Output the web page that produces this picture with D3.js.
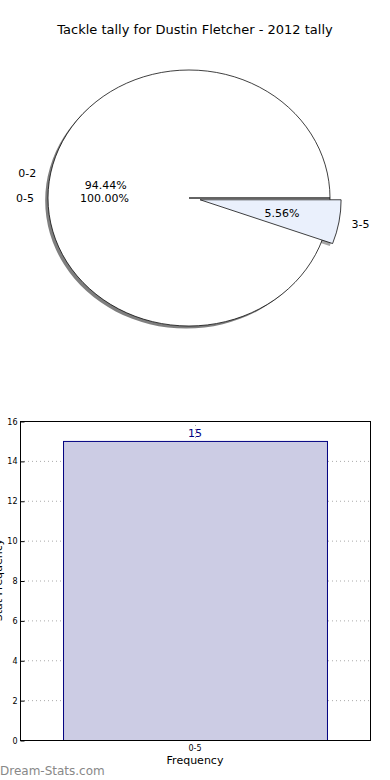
<!DOCTYPE html>
<html>
<head>
<meta charset="utf-8">
<script src="https://cdn.jsdelivr.net/npm/d3@7"></script>
<style>
  body { margin: 0; background: #fff; }
  svg { display: block; font-family: "DejaVu Sans", sans-serif; }
</style>
</head>
<body>
<svg id="chart" width="390" height="780"></svg>
<script>
const TITLE = "Tackle tally for Dustin Fletcher - 2012 tally";

// pie: two slices plus the overall 0-5 ring drawn on top
const pieLabels = ["0-2", "3-5"];
const pieValues = [17, 1];
const pieFills = ["#ffffff", "#eaf0fc"];
const pieExplode = [0, 0.1];
const totalLabel = "0-5";

// bar chart
const barCats = ["0-5"];
const barValues = [15];
const yTicks = [0, 2, 4, 6, 8, 10, 12, 14, 16];

const svg = d3.select("#chart");

svg.append("text")
  .attr("x", 195).attr("y", 34)
  .attr("text-anchor", "middle")
  .attr("font-size", 13)
  .text(TITLE);

// ----- pie -----
const CX = 189, CY = 198, RX = 141, RY = 128;
const g = svg.append("g").attr("transform", `translate(${CX},${CY}) scale(${RX / 100},${RY / 100})`);
const R = 100;

const total = d3.sum(pieValues);
// matplotlib style: start at east, counter clockwise
const toD3 = (deg) => Math.PI / 2 - deg * Math.PI / 180;
let start = 0;
const slices = pieValues.map((v, i) => {
  const span = v / total * 360;
  const s = { label: pieLabels[i], value: v, a0: start, a1: start + span, fill: pieFills[i], explode: pieExplode[i] };
  start += span;
  return s;
});

const arc = d3.arc().innerRadius(0).outerRadius(R);
const wedgePath = (a0, a1) => arc({ startAngle: toD3(a1), endAngle: toD3(a0) });
const offset = (s) => {
  const mid = (s.a0 + s.a1) / 2 * Math.PI / 180;
  return [s.explode * 0.8 * R * Math.cos(mid), -s.explode * 0.8 * R * Math.sin(mid)];
};

// shadows
const shadow = g.append("g").attr("transform", "translate(-2,2)");
shadow.append("path")
  .attr("d", wedgePath(0, 359.999))
  .attr("fill", "#000").attr("opacity", 0.5);
slices.filter((s) => s.explode > 0).forEach((s) => {
  const [dx, dy] = offset(s);
  shadow.append("path")
    .attr("transform", `translate(${dx},${dy})`)
    .attr("d", wedgePath(s.a0, s.a1))
    .attr("fill", "#000").attr("opacity", 0.35);
});

// overall 0-5 ring
g.append("path")
  .attr("d", wedgePath(0, 359.999))
  .attr("fill", "#ffffff")
  .attr("stroke", "#000")
  .attr("stroke-width", 0.75)
  .attr("vector-effect", "non-scaling-stroke");

slices.filter((s) => s.explode > 0).forEach((s) => {
  const [dx, dy] = offset(s);
  g.append("path")
    .attr("transform", `translate(${dx},${dy})`)
    .attr("d", wedgePath(s.a0, s.a1))
    .attr("fill", s.fill)
    .attr("stroke", "#000")
    .attr("stroke-width", 0.75)
    .attr("vector-effect", "non-scaling-stroke");
});

const labelG = svg.append("g").attr("font-size", 11);
function pieText(angleDeg, radius, ex, text, anchorByAngle) {
  const a = angleDeg * Math.PI / 180;
  const x = CX + (radius + ex) * RX / 100 * Math.cos(a);
  const y = CY - (radius + ex) * RY / 100 * Math.sin(a);
  let anchor = "middle";
  if (anchorByAngle) anchor = Math.cos(a) < 0 ? "end" : "start";
  labelG.append("text")
    .attr("x", x).attr("y", y)
    .attr("dy", "0.35em")
    .attr("text-anchor", anchor)
    .text(text);
}

slices.forEach((s) => {
  const mid = (s.a0 + s.a1) / 2;
  const ex = s.explode * 70;
  pieText(mid, 110, ex, s.label, true);
  pieText(mid, 60, ex, (s.value / total * 100).toFixed(2) + "%", false);
});
pieText(180, 110, 0, totalLabel, true);
pieText(180, 60, 0, (100).toFixed(2) + "%", false);

// ----- bar chart -----
const M = { left: 20, right: 370, top: 421, bottom: 740 };
const x = d3.scaleBand().domain(barCats).range([M.left, M.right]).paddingInner(0).paddingOuter(0.163);
const y = d3.scaleLinear().domain([0, 16]).range([M.bottom, M.top]);

const grid = svg.append("g").attr("stroke", "#aaa").attr("stroke-dasharray", "1,3").attr("stroke-width", 1);
yTicks.forEach((t) => {
  grid.append("line").attr("x1", M.left).attr("x2", M.right).attr("y1", y(t) + 0.5).attr("y2", y(t) + 0.5);
});

svg.selectAll("rect.bar")
  .data(barValues)
  .join("rect")
  .attr("class", "bar")
  .attr("x", (d, i) => x(barCats[i]) + 0.5)
  .attr("y", (d) => y(d) + 0.5)
  .attr("width", x.bandwidth())
  .attr("height", (d) => y(0) - y(d))
  .attr("fill", "#ccccE4")
  .attr("stroke", "#000080")
  .attr("stroke-width", 1);

barCats.forEach((c) => {
  const cx = Math.round(x(c) + x.bandwidth() / 2) + 0.5;
  grid.append("line").attr("x1", cx).attr("x2", cx).attr("y1", M.top).attr("y2", M.bottom);
});

svg.selectAll("text.val")
  .data(barValues)
  .join("text")
  .attr("class", "val")
  .attr("x", (d, i) => x(barCats[i]) + x.bandwidth() / 2)
  .attr("y", (d) => y(d) - 4)
  .attr("text-anchor", "middle")
  .attr("font-size", 11)
  .attr("fill", "#000080")
  .text((d) => d);

svg.append("rect")
  .attr("x", M.left + 0.5).attr("y", M.top + 0.5)
  .attr("width", M.right - M.left).attr("height", M.bottom - M.top)
  .attr("fill", "none").attr("stroke", "#000").attr("stroke-width", 1);

const yAxis = d3.axisLeft(y).tickValues(yTicks).tickSize(-4).tickPadding(3);
svg.append("g")
  .attr("transform", `translate(${M.left + 0.5},0.5)`)
  .call(yAxis)
  .call((a) => a.select(".domain").remove())
  .call((a) => a.selectAll("text").attr("font-size", 8).attr("font-family", "DejaVu Sans"));

const xAxis = d3.axisBottom(x).tickSize(0).tickPadding(5);
svg.append("g")
  .attr("transform", `translate(0,${M.bottom + 0.5})`)
  .call(xAxis)
  .call((a) => a.select(".domain").remove())
  .call((a) => a.selectAll("text").attr("font-size", 8).attr("font-family", "DejaVu Sans"));

svg.append("text")
  .attr("x", 195).attr("y", 764)
  .attr("text-anchor", "middle")
  .attr("font-size", 11)
  .text("Frequency");

// y label sits mostly off the left edge, as in the reference
svg.append("text")
  .attr("transform", `translate(2,580) rotate(-90)`)
  .attr("text-anchor", "middle")
  .attr("font-size", 11)
  .text("Stat Frequency");

svg.append("text")
  .attr("x", 0).attr("y", 775)
  .attr("font-size", 12)
  .attr("fill", "#888")
  .text("Dream-Stats.com");
</script>
</body>
</html>
